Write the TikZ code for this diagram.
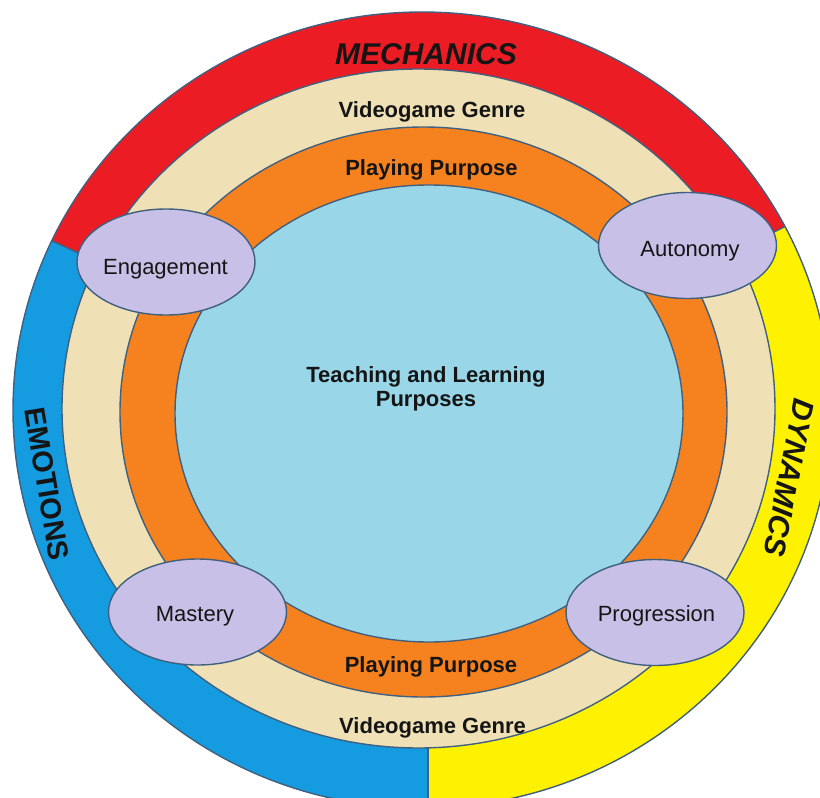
\documentclass[tikz,border=0pt]{standalone}
\usepackage{fontspec}
\setmainfont{Liberation Sans}
\usetikzlibrary{shapes.geometric}
\definecolor{mred}{HTML}{EC1C24}
\definecolor{myellow}{HTML}{FFF200}
\definecolor{mblue}{HTML}{159BE0}
\definecolor{mbeige}{HTML}{EFE1B5}
\definecolor{morange}{HTML}{F6821F}
\definecolor{mlight}{HTML}{98D6E8}
\definecolor{mlav}{HTML}{C8C0E6}
\definecolor{edge}{HTML}{41607F}
\definecolor{ink}{HTML}{151515}
\begin{document}
\begin{tikzpicture}[x=1pt,y=-1pt,
  ring/.style={draw=edge, line width=1.4pt},
  divider/.style={draw=edge, line width=1.4pt},
  bubble/.style={ellipse, draw=edge, line width=1.4pt, fill=mlav, minimum width=178pt, minimum height=106pt, inner sep=0pt},
  bubtext/.style={anchor=base, font=\fontsize{22}{24}\selectfont, text=ink, inner sep=0pt},
  bandtext/.style={anchor=base, font=\bfseries\fontsize{22}{24}\selectfont, text=ink, inner sep=0pt},
  bigtext/.style={font=\bfseries\itshape\fontsize{30}{32}\selectfont, text=ink, inner sep=0pt},
  bigup/.style={font=\bfseries\fontsize{29}{31}\selectfont, text=ink, inner sep=0pt}]
\useasboundingbox (0,0) rectangle (820,798);
\clip (0,0) rectangle (820,798);

\coordinate (ctr) at (422,410);
\coordinate (bmid) at (428,410);
\coordinate (lfar) at (-138,154);
\coordinate (rfar) at (968,134);
\coordinate (bfar) at (428,1100);

% outer ring split in three sectors
\begin{scope}
  \clip (422,410) ellipse [x radius=409pt, y radius=398pt];
  \fill[mred] (ctr) -- (lfar) -- (-138,-300) -- (968,-300) -- (rfar) -- cycle;
  \fill[myellow] (ctr) -- (rfar) -- (968,1100) -- (bfar) -- (bmid) -- cycle;
  \fill[mblue] (ctr) -- (bmid) -- (bfar) -- (-138,1100) -- (lfar) -- cycle;
  \draw[divider] (ctr) -- (lfar);
  \draw[divider] (ctr) -- (rfar);
  \draw[divider] (bmid) -- (bfar);
\end{scope}
\draw[ring] (422,410) ellipse [x radius=409pt, y radius=398pt];

% inner rings
\filldraw[ring, fill=mbeige] (418.5,408.5) ellipse [x radius=356.5pt, y radius=339.5pt];
\filldraw[ring, fill=morange] (423.5,412) ellipse [x radius=303.5pt, y radius=285pt];
\filldraw[ring, fill=mlight] (429,413.5) ellipse [x radius=254pt, y radius=228.5pt];

% bubbles
\node[bubble] (eng) at (166,262) {};
\node[bubble] (aut) at (687.5,245.5) {};
\node[bubble] (mas) at (197.5,612) {};
\node[bubble] (pro) at (655,612.5) {};
\node[bubtext] (engt) at (165.5,274) {Engagement};
\node[bubtext] (autt) at (690,256) {Autonomy};
\node[bubtext] (mast) at (195,621) {Mastery};
\node[bubtext] (prot) at (656.5,621) {Progression};

% band labels
\node[bigtext, anchor=base] (mech) at (426,64) {MECHANICS};
\node[bigup, rotate=-80.6] (emo) at (47,484) {EMOTIONS};
\node[bigtext, rotate=-101] (dyn) at (789,478) {DYNAMICS};
\node[bandtext] (vgtop) at (432,117) {Videogame Genre};
\node[bandtext] (pptop) at (431.5,175) {Playing Purpose};
\node[bandtext] (ppbot) at (431,672) {Playing Purpose};
\node[bandtext] (vgbot) at (432.5,733) {Videogame Genre};
\node[font=\bfseries\fontsize{22}{24}\selectfont, text=ink, inner sep=0pt, align=center] (teach) at (426,389) {Teaching and Learning\\Purposes};
\end{tikzpicture}
\end{document}
